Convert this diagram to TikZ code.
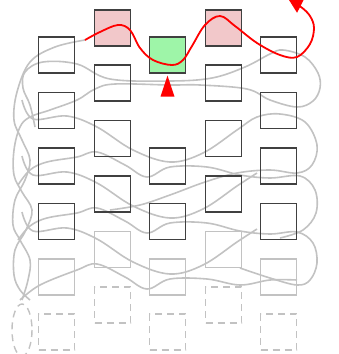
\documentclass[tikz,border=0pt]{standalone}
\usetikzlibrary{arrows.meta}
\definecolor{pinkc}{HTML}{F2C8CA}
\definecolor{greenc}{HTML}{9EF5A8}
\definecolor{boxline}{HTML}{404040}
\definecolor{gline}{HTML}{C2C2C2}
\begin{document}
\begin{tikzpicture}[x=1pt,y=-1pt,
  cell/.style={draw=boxline,line width=1.1pt,minimum size=36pt,inner sep=0pt},
  pinkcell/.style={cell,fill=pinkc},
  greencell/.style={cell,fill=greenc},
  gcell/.style={draw=gline,line width=1.1pt,minimum size=36pt,inner sep=0pt},
  dcell/.style={gcell,dash pattern=on 7pt off 5pt},
  gcurve/.style={draw=gline,line width=1.6pt},
  rcurve/.style={draw=red,line width=1.8pt}]
\useasboundingbox (0,0) rectangle (339,354);
% gray curves (drawn first)
\draw[gcurve] plot[smooth,tension=0.6] coordinates {(85,40)(55,47)(30,62)(17,92)(14,120)(22,140)(30,160)(25,180)(15,200)(13,225)(20,240)(30,260)(28,280)(22,300)};
\draw[gcurve] plot[smooth,tension=0.6] coordinates {(35,127)(30,105)(23,88)(25,72)(43,62)(77,64)(110,79)(170,81)(212,78)(245,67)(270,54)(283,50)(305,57)(318,73)(320,88)(313,101)(297,107)(270,100)(247,89)(200,85)(170,85)(115,84)(95,89)(77,100)(50,110)(30,117)(20,127)(14,150)(14,175)(22,192)(32,210)(26,230)(15,250)(14,275)(20,290)(30,300)};
% band 2
\draw[gcurve] plot[smooth,tension=0.6] coordinates {(22,100)(33,119)(67,116)(97,127)(133,150)(170,162)(203,153)(237,130)(257,117)(280,114)(305,122)(317,145)(312,165)(297,173)(270,170)(237,173)(205,182)(170,195)(140,205)(110,210)};
\draw[gcurve] plot[smooth,tension=0.6] coordinates {(18,185)(30,170)(47,162)(77,157)(97,152)(125,165)(147,177)(170,167)(207,167)(240,175)(270,178)(300,176)(315,190)(316,213)(303,230)(280,238)};
% band 3
\draw[gcurve] plot[smooth,tension=0.6] coordinates {(22,156)(33,175)(67,172)(97,183)(133,206)(170,218)(203,209)(237,186)(257,173)};
\draw[gcurve] plot[smooth,tension=0.6] coordinates {(18,240)(30,226)(47,218)(77,213)(97,208)(125,221)(147,233)(170,223)(207,223)(240,231)(270,234)(297,232)(313,243)(317,263)(310,280)(297,285)(270,278)(240,268)};
% band 4
\draw[gcurve] plot[smooth,tension=0.6] coordinates {(22,212)(33,231)(67,228)(97,239)(133,262)(170,274)(203,265)(237,242)(257,229)};
\draw[gcurve] plot[smooth,tension=0.6] coordinates {(20,300)(40,285)(77,270)(97,264)(125,277)(147,289)(170,279)(207,279)(240,285)(270,280)(297,280)};
% dashed tail
\draw[gline,line width=1.4pt,dash pattern=on 7pt off 5pt] (22,330) ellipse [x radius=10,y radius=26];
% cells
\foreach \c/\x in {1/56.5,3/167.5,5/278.5}{
  \foreach \r/\y in {1/55,2/110.5,3/166,4/221.5}{
    \ifnum\c=3 \ifnum\r<3 \else \node[cell] (o\c\r) at (\x,\y) {}; \fi
    \else \node[cell] (o\c\r) at (\x,\y) {}; \fi}
  \node[gcell] (o\c5) at (\x,277) {};
  \node[dcell] (o\c6) at (\x,332) {};}
\foreach \c/\x in {2/112.5,4/223.5}{
  \foreach \r/\y in {2/83,3/138.5,4/194}{\node[cell] (e\c\r) at (\x,\y) {};}
  \node[gcell] (e\c5) at (\x,249.5) {};
  \node[dcell] (e\c6) at (\x,305) {};}
\node[pinkcell] (p2) at (112.5,28) {};
\node[pinkcell] (p4) at (223.5,28) {};
\node[greencell] (g3) at (167.5,55) {};
% red path
\coordinate (rs) at (85,40);
\coordinate (re) at (289,0);
\draw[rcurve,-{Triangle[length=13pt,width=15pt]}] plot[smooth,tension=0.6] coordinates {(rs)(100,32)(118,25)(130,30)(140,48)(153,60)(172,65)(183,60)(192,46)(205,25)(220,16)(235,26)(257,43)(280,55)(297,57)(310,44)(314,28)(310,16)(301,7)(re)};
% red arrow into green cell
\fill[red] (g3.south) ++(0,2) -- ++(7,21) -- ++(-14,0) -- cycle;
\end{tikzpicture}
\end{document}
